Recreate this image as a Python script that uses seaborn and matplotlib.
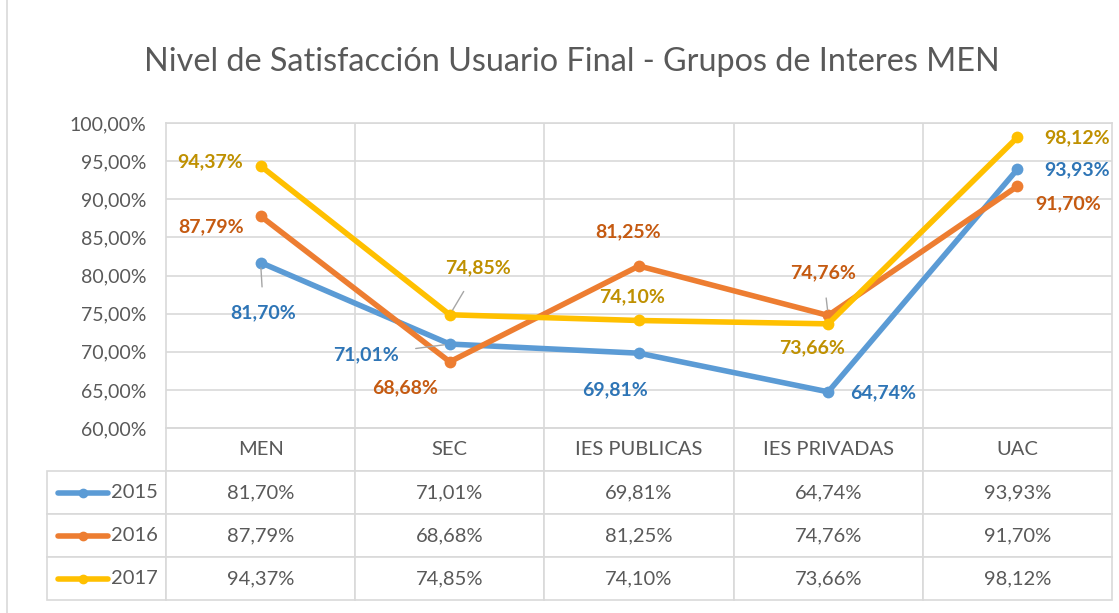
import numpy as np
import pandas as pd
import matplotlib
matplotlib.use("Agg")
import matplotlib.pyplot as plt
import seaborn as sns
from matplotlib.lines import Line2D
from matplotlib.patches import Rectangle

# data
categories = ["MEN", "SEC", "IES PUBLICAS", "IES PRIVADAS", "UAC"]
years = ["2015", "2016", "2017"]
vals_2015 = [81.70, 71.01, 69.81, 64.74, 93.93]
vals_2016 = [87.79, 68.68, 81.25, 74.76, 91.70]
vals_2017 = [94.37, 74.85, 74.10, 73.66, 98.12]
y_ticks = [60, 65, 70, 75, 80, 85, 90, 95, 100]

line_colors = ["#5B9BD5", "#ED7D31", "#FFC000"]
label_colors = ["#2E75B6", "#C55A11", "#BF9000"]

# label offsets in pixels (dx, dy) and whether a leader line is drawn
label_offsets = {
    "2015": [(3, -50, True), (-84, -11, True), (-24, -37, False), (55, -1, False), (60, 0, False)],
    "2016": [(-50, -11, False), (-45, -26, False), (-11, 34, False), (-5, 43, True), (51, -17, False)],
    "2017": [(-50, 4, False), (28, 47, True), (-7, 24, False), (-16, -24, False), (60, 0, False)],
}


def fmt(v):
    return f"{v:.2f}%".replace(".", ",")


sns.set_style("white")
plt.rcParams["font.family"] = ["Lato", "DejaVu Sans"]

df = pd.DataFrame({
    "cat": categories * 3,
    "year": np.repeat(years, len(categories)),
    "value": vals_2015 + vals_2016 + vals_2017,
})

W, H = 1119, 613
fig = plt.figure(figsize=(W / 100, H / 100), dpi=100)
left, right, top, bottom = 166, 1112, 123, 428
ax = fig.add_axes([left / W, 1 - bottom / H, (right - left) / W, (bottom - top) / H])

sns.lineplot(data=df, x="cat", y="value", hue="year", palette=line_colors,
             marker="o", markersize=8.5, markeredgewidth=0, linewidth=4,
             legend=False, ax=ax, sort=False)

ax.set_xlim(-0.5, len(categories) - 0.5)
ax.set_ylim(60, 100)
ax.set_yticks(y_ticks)
ax.set_yticklabels([fmt(t) for t in y_ticks], fontsize=14, color="#595959")
ax.tick_params(axis="y", length=0, pad=14)
ax.set_xticks([])
ax.set_xlabel("")
ax.set_ylabel("")
for t in y_ticks:
    ax.axhline(t, color="#D9D9D9", linewidth=1.2, zorder=0)
for i in range(1, len(categories)):
    ax.axvline(i - 0.5, color="#D9D9D9", linewidth=1.2, zorder=0)
for s in ax.spines.values():
    s.set_color("#D9D9D9")
    s.set_linewidth(1.2)

# data labels
series = {"2015": vals_2015, "2016": vals_2016, "2017": vals_2017}
for k, yr in enumerate(years):
    for i, v in enumerate(series[yr]):
        dx, dy, leader = label_offsets[yr][i]
        ax.annotate(fmt(v), (i, v), xytext=(dx, dy), textcoords="offset pixels",
                    ha="center", va="center", fontsize=14, fontweight="bold",
                    color=label_colors[k],
                    arrowprops=dict(arrowstyle="-", color="#A6A6A6", lw=1,
                                    shrinkA=10, shrinkB=4) if leader else None)

# data table under the plot
col_w = 1.0 / len(categories)
row_label_w = (left - 47) / (right - left)
table_h = (600 - bottom) / (bottom - top)
cell_text = [[yr] + [fmt(v) for v in series[yr]] for yr in years]
tbl = ax.table(cellText=cell_text, colLabels=[""] + categories,
               colWidths=[row_label_w] + [col_w] * len(categories),
               cellLoc="center",
               bbox=[-row_label_w, -table_h, 1 + row_label_w, table_h])
tbl.auto_set_font_size(False)
for (r, c), cell in tbl.get_celld().items():
    cell.set_edgecolor("#D9D9D9")
    cell.set_linewidth(1.2)
    cell.get_text().set_color("#595959")
    cell.get_text().set_fontsize(14.5)
    if c == 0:
        cell.get_text().set_horizontalalignment("right")
        cell.PAD = 0.07
tbl[(0, 0)].set_visible(False)

# legend keys inside the row label cells
row_h = (600 - bottom) / 4
for k in range(len(years)):
    yc = bottom + row_h * (k + 1.5)
    fy = 1 - yc / H
    fig.add_artist(Line2D([58 / W, 83 / W, 108 / W], [fy, fy, fy], color=line_colors[k],
                          linewidth=4, marker="o", markersize=6, markevery=[1],
                          solid_capstyle="round"))

# title
fig.text(572 / W, 1 - 62 / H, "Nivel de Satisfacción Usuario Final - Grupos de Interes MEN",
         ha="center", va="center", fontsize=23.3, color="#595959")

# chart frame
fig.add_artist(Rectangle((7 / W, -0.01), 1.02, 1.02, transform=fig.transFigure,
                         fill=False, edgecolor="#D9D9D9", linewidth=1.2))

fig.savefig("out.png", dpi=100)
